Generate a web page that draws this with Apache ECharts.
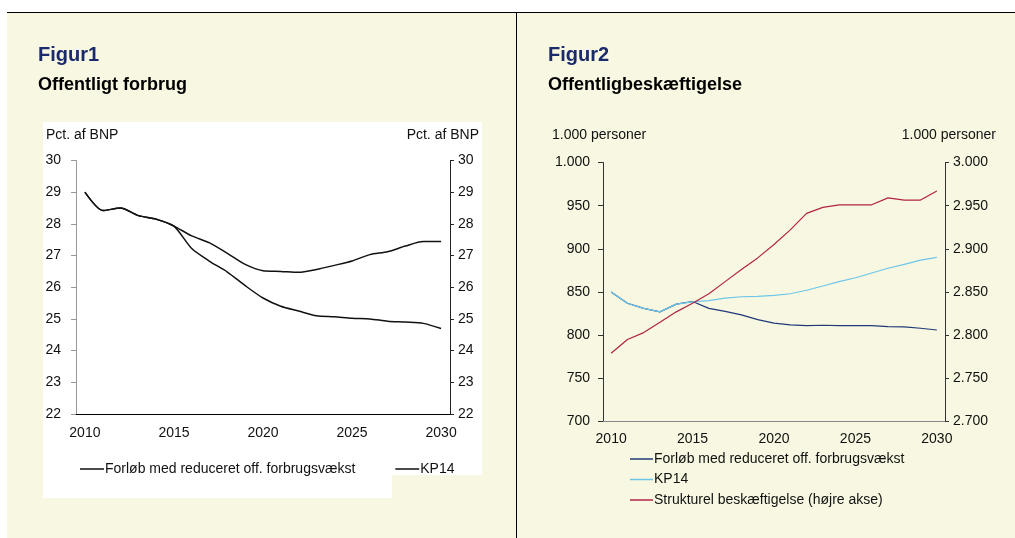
<!DOCTYPE html>
<html>
<head>
<meta charset="utf-8">
<script src="https://cdn.jsdelivr.net/npm/echarts@6/dist/echarts.min.js"></script>
<style>
  html, body { margin: 0; padding: 0; background: #fff; }
  body { width: 1015px; height: 538px; position: relative; overflow: hidden; font-family: 'Liberation Sans', Arial, sans-serif; }
  .panel { position: absolute; left: 7px; top: 12px; right: 0; bottom: 0; background: #f8f7e1; border-top: 1px solid #000; }
  .divider { position: absolute; left: 516px; top: 12px; width: 1px; bottom: 0; background: #000; }
  .white-a { position: absolute; left: 43px; top: 122px; width: 439px; height: 353px; background: #fff; }
  .white-b { position: absolute; left: 43px; top: 475px; width: 349px; height: 23px; background: #fff; }
  #fig1 { position: absolute; left: 0; top: 0; width: 516px; height: 538px; }
  #fig2 { position: absolute; left: 517px; top: 0; width: 498px; height: 538px; }
</style>
</head>
<body>
<div class="panel"></div>
<div class="divider"></div>
<div class="white-a"></div>
<div class="white-b"></div>
<div id="fig1"></div>
<div id="fig2"></div>
<script>
const years = ['2010', '2011', '2012', '2013', '2014', '2015', '2016', '2017', '2018', '2019', '2020',
  '2021', '2022', '2023', '2024', '2025', '2026', '2027', '2028', '2029', '2030']

// Figur 1, pct. af BNP
const fig1Reduced = [29.0, 28.42, 28.5, 28.26, 28.15, 27.93, 27.22, 26.82, 26.48, 26.05, 25.66,
  25.4, 25.25, 25.1, 25.07, 25.02, 25.0, 24.93, 24.9, 24.86, 24.7]
const fig1KP14 = [29.0, 28.42, 28.5, 28.26, 28.15, 27.93, 27.62, 27.4, 27.07, 26.72, 26.52,
  26.5, 26.47, 26.56, 26.69, 26.83, 27.03, 27.12, 27.3, 27.44, 27.44]

// Figur 2, 1.000 personer
const fig2Reduced = [850, 837, 831, 827, 836, 839, 831, 827.5, 823.5, 818, 814,
  812, 811, 811.5, 811, 811, 811, 810, 809.5, 808, 806]
const fig2KP14 = [850, 837, 831, 827, 836, 838.5, 840, 843, 844.5, 845, 846,
  848, 852, 857, 862, 866.5, 872, 877.5, 882, 887, 890]
const fig2Struct = [2779, 2795, 2803, 2815, 2827, 2837, 2848, 2862, 2876, 2889.5, 2905,
  2922, 2941, 2948, 2951, 2951, 2951, 2959, 2956.5, 2956.5, 2967]

const fig1Ticks = [22, 30, 1]
const fig2LeftTicks = [700, 1000, 50]
const fig2RightTicks = [2700, 3000, 50]

const FONT = "'Liberation Sans', Arial, sans-serif"
const NAMES = ['Forløb med reduceret off. forbrugsvækst', 'KP14', 'Strukturel beskæftigelse (højre akse)']

function thousands(v) {
  if (v < 1000) return String(v)
  return Math.floor(v / 1000) + '.' + String(v % 1000).padStart(3, '0')
}

function titles(num, sub, x) {
  return [
    { text: num, left: x, top: 45, padding: 0, textStyle: { fontFamily: FONT, fontSize: 20, fontWeight: 'bold', color: '#1b2a6b' } },
    { text: sub, left: x, top: 76, padding: 0, textStyle: { fontFamily: FONT, fontSize: 18, fontWeight: 'bold', color: '#000' } },
  ]
}

function catAxis(lineColor, labelMargin) {
  return {
    type: 'category',
    data: years,
    boundaryGap: true,
    axisLine: { lineStyle: { color: lineColor, width: 1 } },
    axisTick: { interval: 4, length: 3, lineStyle: { color: lineColor } },
    axisLabel: { interval: 4, margin: labelMargin, color: '#111', fontFamily: FONT, fontSize: 14 },
    splitLine: { show: false },
  }
}

function valAxis(pos, ticks, lineColor, margin, fmt) {
  return {
    type: 'value',
    position: pos,
    min: ticks[0],
    max: ticks[1],
    interval: ticks[2],
    axisLine: { show: true, lineStyle: { color: lineColor, width: 1 } },
    axisTick: { show: true, inside: false, length: pos === 'left' ? 5 : 4, lineStyle: { color: lineColor } },
    axisLabel: { margin: margin, color: '#111', fontFamily: FONT, fontSize: 14, formatter: fmt },
    splitLine: { show: false },
  }
}

function axisName(text, x, align) {
  return { type: 'text', left: align === 'left' ? x : null, right: align === 'right' ? x : null, top: 128,
    style: { text: text, fill: '#111', font: '14px ' + FONT } }
}

function legendBox(extra) {
  return Object.assign({
    icon: 'rect', itemWidth: 24, itemHeight: 1.5, padding: 0,
    textStyle: { fontFamily: FONT, fontSize: 14, color: '#111', padding: [0, 0, 0, -4] },
  }, extra)
}

// ---- Figur 1 ----
const chart1 = echarts.init(document.getElementById('fig1'))
chart1.setOption({
  animation: false,
  title: titles('Figur1', 'Offentligt forbrug', 38),
  grid: { left: 76, top: 160.5, width: 374, height: 253.5 },
  xAxis: catAxis('#000', 12),
  yAxis: [
    valAxis('left', fig1Ticks, '#999', 15, (v) => String(v)),
    valAxis('right', fig1Ticks, '#222', 8, (v) => String(v)),
  ],
  legend: legendBox({ left: 80, top: 462, itemGap: 40, data: NAMES.slice(0, 2) }),
  graphic: [
    axisName('Pct. af BNP', 46, 'left'),
    axisName('Pct. af BNP', 37, 'right'),
  ],
  series: [
    { name: NAMES[0], type: 'line', data: fig1Reduced, symbol: 'none', smooth: 0.25,
      lineStyle: { color: '#111', width: 1.5 }, itemStyle: { color: '#111' } },
    { name: NAMES[1], type: 'line', data: fig1KP14, symbol: 'none', smooth: 0.25,
      lineStyle: { color: '#111', width: 1.5 }, itemStyle: { color: '#111' } },
  ],
})

// ---- Figur 2 ----
const chart2 = echarts.init(document.getElementById('fig2'))
chart2.setOption({
  animation: false,
  title: titles('Figur2', 'Offentligbeskæftigelse', 31),
  grid: { left: 86, top: 162.5, width: 342, height: 259 },
  xAxis: catAxis('#888', 11),
  yAxis: [
    valAxis('left', fig2LeftTicks, '#333', 13, thousands),
    valAxis('right', fig2RightTicks, '#333', 8, thousands),
  ],
  legend: legendBox({ orient: 'vertical', left: 113, top: 452, itemWidth: 23, itemGap: 6.5, data: NAMES }),
  graphic: [
    axisName('1.000 personer', 35, 'left'),
    axisName('1.000 personer', 19, 'right'),
  ],
  series: [
    { name: NAMES[0], type: 'line', data: fig2Reduced, yAxisIndex: 0, symbol: 'none',
      lineStyle: { color: '#1f3a78', width: 1.2 }, itemStyle: { color: '#1f3a78' } },
    { name: NAMES[1], type: 'line', data: fig2KP14, yAxisIndex: 0, symbol: 'none',
      lineStyle: { color: '#6cc6ea', width: 1.2 }, itemStyle: { color: '#6cc6ea' } },
    { name: NAMES[2], type: 'line', data: fig2Struct, yAxisIndex: 1, symbol: 'none',
      lineStyle: { color: '#b02444', width: 1.2 }, itemStyle: { color: '#b02444' } },
  ],
})
</script>
</body>
</html>
